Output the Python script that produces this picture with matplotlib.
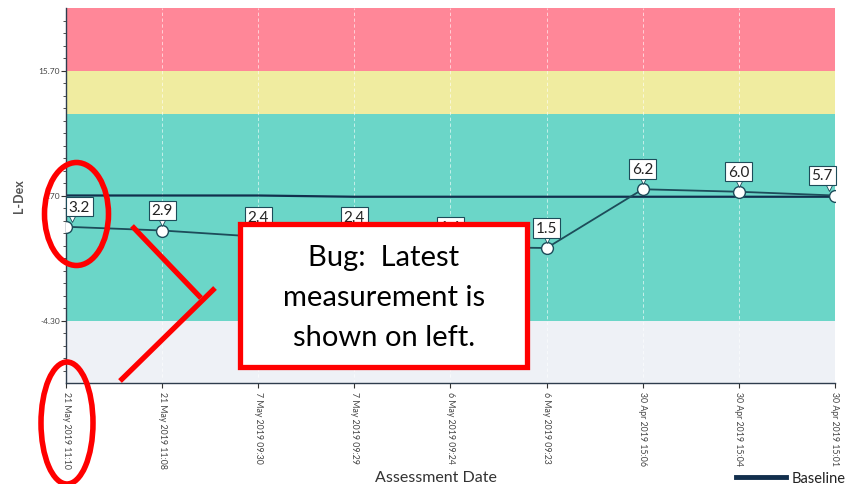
import matplotlib
matplotlib.use('Agg')
import matplotlib.pyplot as plt
from matplotlib.patches import Rectangle, Ellipse
from matplotlib.lines import Line2D
import matplotlib.transforms as mtrans
import numpy as np

plt.rcParams['font.family'] = ['Lato', 'DejaVu Sans']

# data (newest first, as drawn by the buggy chart)
dates = ['21 May 2019 11:10', '21 May 2019 11:08', '7 May 2019 09:30', '7 May 2019 09:29',
         '6 May 2019 09:24', '6 May 2019 09:23', '30 Apr 2019 15:06', '30 Apr 2019 15:04',
         '30 Apr 2019 15:01']
ldex = [3.2, 2.9, 2.4, 2.4, 1.6, 1.5, 6.2, 6.0, 5.7]
baseline = [5.7, 5.7, 5.7, 5.6, 5.6, 5.6, 5.6, 5.6, 5.6]
yTicks = [15.7, 5.7, -4.3]
yTickLabels = ['15.70', '5.70', '-4.30']
bands = [(15.7, 20.7, '#ff8798'), (12.2, 15.7, '#f0eca0'), (-4.3, 12.2, '#6bd6c8'), (-9.3, -4.3, '#eef1f6')]

lineCol = '#1d4c5a'
navy = '#122f4d'

fig = plt.figure(figsize=(8.53, 4.85), dpi=100)
ax = fig.add_axes([66/853., 1-384/485., (835-66)/853., (384-9)/485.])

x = np.arange(len(dates))
for lo, hi, col in bands:
    ax.axhspan(lo, hi, color=col, lw=0, zorder=0)

for xi in x:
    ax.axvline(xi, color='white', lw=0.6, ls=(0, (4, 3)), alpha=0.7, zorder=1)

ax.plot(x, baseline, color=navy, lw=1.6, zorder=2)
ax.plot(x, ldex, color=lineCol, lw=1.3, marker='o', ms=8.5, mfc='white', mec=lineCol, mew=1.0, zorder=3)

last = len(ldex) - 1
for i, v in enumerate(ldex):
    ha, dx = 'center', 0
    if i == 0:
        ha, dx = 'left', 2
    elif i == last:
        ha, dx = 'right', -1.5
    ax.annotate('%.1f' % v, (x[i], v), xytext=(dx, 14.5), textcoords='offset points',
                ha=ha, va='center', fontsize=11, color='#222',
                bbox=dict(boxstyle='square,pad=0.18', fc='white', ec=lineCol, lw=0.8), zorder=5)
    # little pointer under each value box
    tdx = 0 if 0 < i < last else (4 if i == 0 else -4)
    off = mtrans.ScaledTranslation(tdx/72., 5.6/72., fig.dpi_scale_trans)
    ax.plot([x[i]], [v], marker='v', ms=5, mfc='white', mec=lineCol, mew=0.6, zorder=4,
            transform=ax.transData + off, clip_on=False)

ax.set_xlim(0, last)
ax.set_ylim(-9.3, 20.7)
ax.set_xticks(x)
ax.set_xticklabels(dates, rotation=270, fontsize=6.3, color='#444')
ax.set_yticks(yTicks)
ax.set_yticklabels(yTickLabels, fontsize=6, color='#444')
ax.set_yticks(np.arange(-8.3, 20.7, 1.0), minor=True)
ax.tick_params(axis='y', which='minor', length=2.5, color='#333')
ax.tick_params(axis='y', which='major', length=3.5, color='#333', pad=1)
ax.tick_params(axis='x', length=3.5, color='#333', pad=2)
for s in ['top', 'right']:
    ax.spines[s].set_visible(False)
for s in ['left', 'bottom']:
    ax.spines[s].set_color('#2e3d4d')
    ax.spines[s].set_linewidth(1.0)

ax.set_ylabel('L-Dex', fontsize=9, color='#555', fontweight='bold')
ax.yaxis.set_label_coords(-41/769., 0.5)
fig.text(436/853., 1-478/485., 'Assessment Date', ha='center', va='center', fontsize=11.5, color='#333')

fig.legend(handles=[Line2D([], [], color=navy, lw=3.5)], labels=['Baseline'],
           loc='center right', bbox_to_anchor=(0.998, 1-479/485.), frameon=False,
           fontsize=10.5, handlelength=3.4, handletextpad=0.4, borderaxespad=0.0, labelcolor='#222')

# red callout overlay, in figure pixels
ov = fig.add_axes([0, 0, 1, 1])
ov.set_xlim(0, 853)
ov.set_ylim(485, 0)
ov.axis('off')
ov.patch.set_alpha(0)
red = '#ff0000'
ov.add_patch(Rectangle((240.5, 224.5), 287, 143, fc='white', ec=red, lw=3.8))
for ty, line in zip([258, 298, 338], ['Bug:  Latest', 'measurement is', 'shown on left.']):
    ov.text(384, ty, line, ha='center', va='center', fontsize=21, color='black')
ov.add_patch(Ellipse((76.5, 215), 64, 103, fc='none', ec=red, lw=4))
ov.add_patch(Ellipse((67, 424), 52, 122, fc='none', ec=red, lw=4))
ov.plot([132, 201], [227, 299], color=red, lw=3.8, solid_capstyle='butt')
ov.plot([120, 215], [382, 289], color=red, lw=3.8, solid_capstyle='butt')

fig.savefig('out.png', dpi=100)
